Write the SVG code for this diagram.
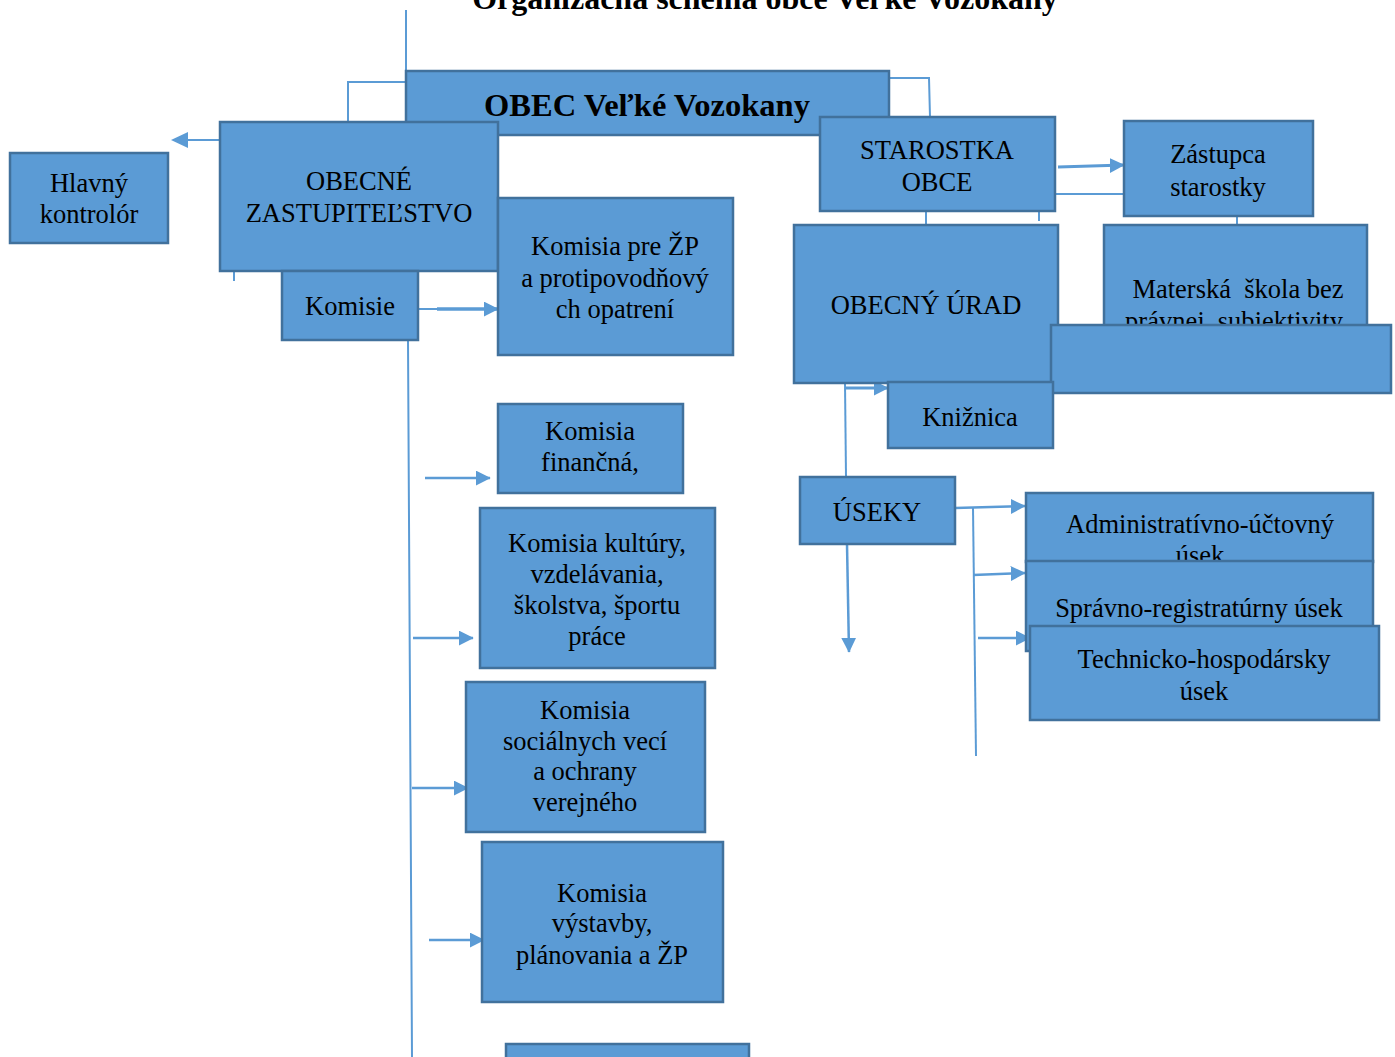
<svg xmlns="http://www.w3.org/2000/svg" width="1395" height="1057" viewBox="0 0 1395 1057">
<style>
.box{fill:#5B9BD5;stroke:#41719C;stroke-width:2.5}
.t{font-family:"Liberation Serif","Times New Roman",serif;font-size:26.5px;fill:#000;text-anchor:middle}
.b{font-weight:bold}
.c{fill:none;stroke:#5B9BD5;stroke-width:2}
.ca{fill:none;stroke:#5B9BD5;stroke-width:2.5;marker-end:url(#ah)}
</style>
<defs>
<marker id="ah" viewBox="0 0 10 10" refX="9.5" refY="5" markerWidth="15" markerHeight="15" markerUnits="userSpaceOnUse" orient="auto">
<path d="M0,0 L10,5 L0,10 z" fill="#5B9BD5"/>
</marker>
</defs>
<rect width="1395" height="1057" fill="#fff"/>
<text class="t b" x="765" y="9" style="font-size:32px">Organizačná schéma obce Veľké Vozokany</text>

<g id="connectors">
<path class="c" d="M406,10 V71"/>
<path class="c" d="M406,82 H348 V122"/>
<path class="c" d="M889,78 H929 L930,117"/>
<path class="c" d="M220,140 H186"/>
<path d="M171,140 L188,132 L188,148 z" fill="#5B9BD5"/>
<path class="c" d="M234,271 V281"/>
<path class="c" d="M408,271 V340 L412,1057"/>
<path class="c" d="M418,309 H440"/>
<path class="ca" d="M437,309 H498" style="stroke-width:3.5"/>
<path class="ca" d="M425,478 H490"/>
<path class="ca" d="M413,638 H473"/>
<path class="ca" d="M412,788 H468"/>
<path class="ca" d="M429,940 H484"/>
<path class="ca" d="M1058,167 L1124,165" style="stroke-width:3"/>
<path class="c" d="M1055,194 H1124"/>
<path class="c" d="M926,211 V225"/>
<path class="c" d="M1039,211 V221"/>
<path class="c" d="M1237,216 V225"/>
<path class="c" d="M845,383 L846,477"/>
<path class="ca" d="M845,388 H888" style="stroke-width:3"/>
<path class="ca" d="M847,544 L849,652"/>
<path class="ca" d="M955,508 L1025,506"/>
<path class="c" d="M973,508 L976,756"/>
<path class="ca" d="M973,575 L1025,573"/>
<path class="ca" d="M978,638 H1030"/>
</g>

<g id="obec">
<rect class="box" x="406" y="71" width="483" height="64"/>
<text class="t b" x="647" y="116" style="font-size:32.5px">OBEC Veľké Vozokany</text>
</g>
<g id="zastupitelstvo">
<rect class="box" x="220" y="122" width="278" height="149"/>
<text class="t" x="359" y="190">OBECNÉ</text>
<text class="t" x="359" y="222">ZASTUPITEĽSTVO</text>
</g>
<g id="kontrolor">
<rect class="box" x="10" y="153" width="158" height="90"/>
<text class="t" x="89" y="192">Hlavný</text>
<text class="t" x="89" y="223">kontrolór</text>
</g>
<g id="komisie">
<rect class="box" x="282" y="271" width="136" height="69"/>
<text class="t" x="350" y="315">Komisie</text>
</g>
<g id="komisia-zp">
<rect class="box" x="498" y="198" width="235" height="157"/>
<text class="t" x="615" y="255">Komisia pre ŽP</text>
<text class="t" x="615" y="287">a protipovodňový</text>
<text class="t" x="615" y="318">ch opatrení</text>
</g>
<g id="komisia-financna">
<rect class="box" x="498" y="404" width="185" height="89"/>
<text class="t" x="590" y="440">Komisia</text>
<text class="t" x="590" y="471">finančná,</text>
</g>
<g id="komisia-kultury">
<rect class="box" x="480" y="508" width="235" height="160"/>
<text class="t" x="597" y="552">Komisia kultúry,</text>
<text class="t" x="597" y="583">vzdelávania,</text>
<text class="t" x="597" y="614">školstva, športu</text>
<text class="t" x="597" y="645">práce</text>
</g>
<g id="komisia-socialna">
<rect class="box" x="466" y="682" width="239" height="150"/>
<text class="t" x="585" y="719">Komisia</text>
<text class="t" x="585" y="750">sociálnych vecí</text>
<text class="t" x="585" y="780">a ochrany</text>
<text class="t" x="585" y="811">verejného</text>
</g>
<g id="komisia-vystavby">
<rect class="box" x="482" y="842" width="241" height="160"/>
<text class="t" x="602" y="902">Komisia</text>
<text class="t" x="602" y="932">výstavby,</text>
<text class="t" x="602" y="964">plánovania a ŽP</text>
</g>
<g id="komisia-dalsia">
<rect class="box" x="506" y="1044" width="243" height="30"/>
</g>
<g id="starostka">
<rect class="box" x="820" y="117" width="235" height="94"/>
<text class="t" x="937" y="159">STAROSTKA</text>
<text class="t" x="937" y="191">OBCE</text>
</g>
<g id="zastupca">
<rect class="box" x="1124" y="121" width="189" height="95"/>
<text class="t" x="1218" y="163">Zástupca</text>
<text class="t" x="1218" y="196">starostky</text>
</g>
<g id="urad">
<rect class="box" x="794" y="225" width="264" height="158"/>
<text class="t" x="926" y="314">OBECNÝ ÚRAD</text>
</g>
<g id="materska-skola">
<rect class="box" x="1104" y="225" width="263" height="110"/>
<text class="t" x="1238" y="298" xml:space="preserve">Materská  škola bez</text>
<text class="t" x="1234" y="330" xml:space="preserve">právnej  subjektivity</text>
</g>
<g id="prazdny">
<rect class="box" x="1051" y="325" width="340" height="68"/>
</g>
<g id="kniznica">
<rect class="box" x="888" y="382" width="165" height="66"/>
<text class="t" x="970" y="426">Knižnica</text>
</g>
<g id="useky">
<rect class="box" x="800" y="477" width="155" height="67"/>
<text class="t" x="877" y="521">ÚSEKY</text>
</g>
<g id="admin">
<rect class="box" x="1026" y="493" width="347" height="69"/>
<text class="t" x="1200" y="533">Administratívno-účtovný</text>
<text class="t" x="1200" y="564">úsek</text>
</g>
<g id="spravno">
<rect class="box" x="1026" y="561" width="347" height="90"/>
<text class="t" x="1199" y="617">Správno-registratúrny úsek</text>
</g>
<g id="technicko">
<rect class="box" x="1030" y="626" width="349" height="94"/>
<text class="t" x="1204" y="668">Technicko-hospodársky</text>
<text class="t" x="1204" y="700">úsek</text>
</g>
</svg>
